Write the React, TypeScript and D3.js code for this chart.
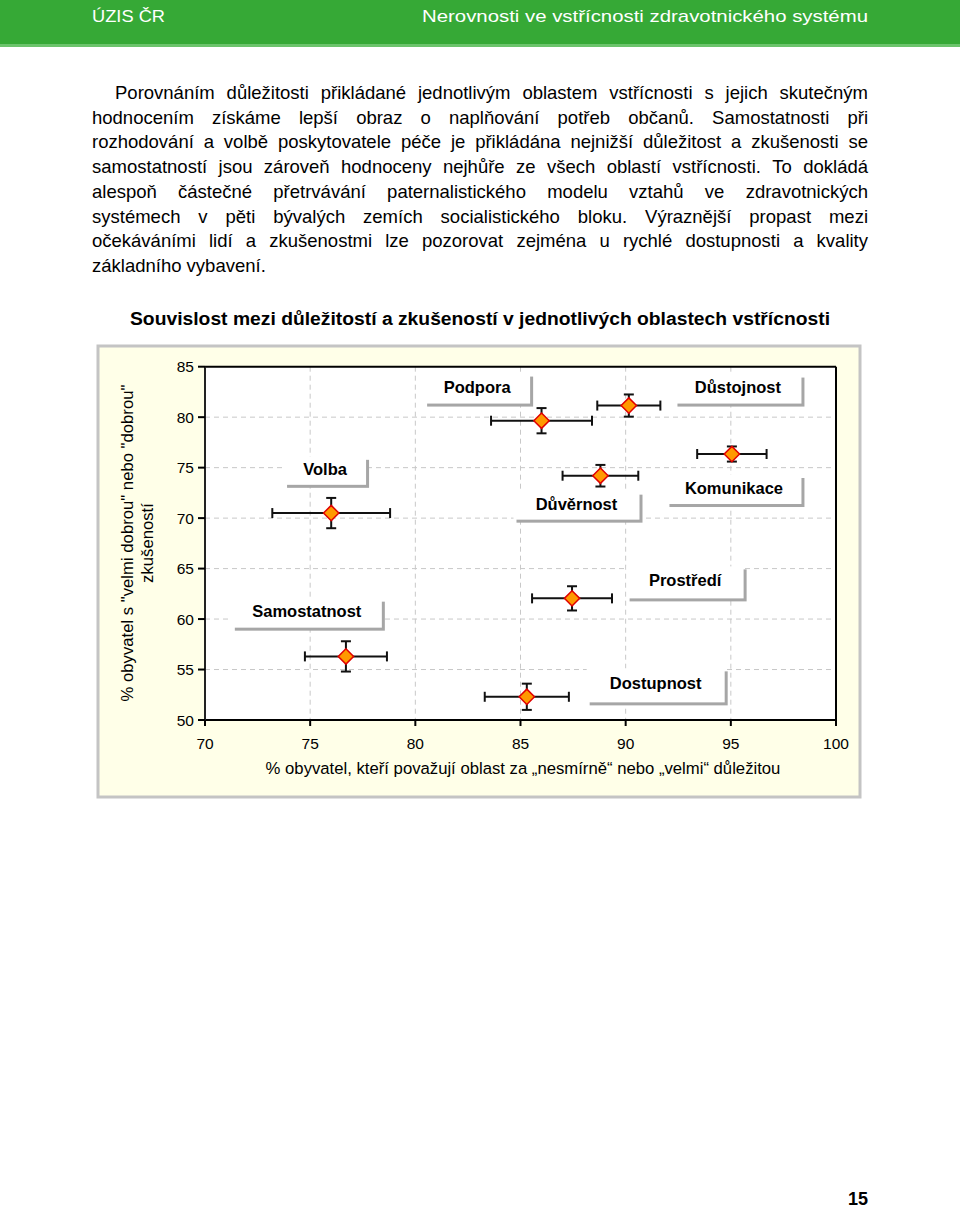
import React from "react";
import * as d3 from "d3";

// ---- data ----
const categories = ["Volba", "Samostatnost", "Podpora", "Důstojnost", "Komunikace", "Důvěrnost", "Prostředí", "Dostupnost"];
const importance = [76.0, 76.7, 86.0, 90.15, 95.05, 88.8, 87.45, 85.3];
const importanceErr = [2.8, 1.95, 2.4, 1.5, 1.65, 1.8, 1.9, 2.0];
const experience = [70.5, 56.3, 79.65, 81.15, 76.35, 74.2, 62.05, 52.3];
const experienceErr = [1.5, 1.5, 1.25, 1.1, 0.75, 1.07, 1.2, 1.3];

const xTicks = [70, 75, 80, 85, 90, 95, 100];
const yTicks = [50, 55, 60, 65, 70, 75, 80, 85];

// label annotation anchors (bottom-right corner of box in data units, box size in px)
const labelAnchorX = [77.8, 78.55, 85.6, 98.5, 98.5, 90.8, 95.75, 94.85];
const labelAnchorY = [73.0, 58.85, 81.05, 81.05, 71.1, 69.55, 61.75, 51.45];
const labelWidth = [82, 150, 106, 127, 135, 126, 117, 138];
const labelHeight = [28, 29, 30, 29, 29, 28, 32, 34];

const paragraph = [
  "Porovnáním důležitosti přikládané jednotlivým oblastem vstřícnosti s jejich skutečným",
  "hodnocením získáme lepší obraz o naplňování potřeb občanů. Samostatnosti při",
  "rozhodování a volbě poskytovatele péče je přikládána nejnižší důležitost a zkušenosti se",
  "samostatností jsou zároveň hodnoceny nejhůře ze všech oblastí vstřícnosti. To dokládá",
  "alespoň částečné přetrvávání paternalistického modelu vztahů ve zdravotnických",
  "systémech v pěti bývalých zemích socialistického bloku. Výraznější propast mezi",
  "očekáváními lidí a zkušenostmi lze pozorovat zejména u rychlé dostupnosti a kvality",
  "základního vybavení.",
];

const W = 960;
const H = 1209;
const FONT = "'Liberation Sans', Arial, sans-serif";

let _ctx: CanvasRenderingContext2D | null = null;
function measure(text: string, size: number, weight = "normal"): number {
  if (!_ctx) {
    const c = document.createElement("canvas");
    _ctx = c.getContext("2d");
  }
  if (!_ctx) return text.length * size * 0.5;
  _ctx.font = `${weight} ${size}px 'Liberation Sans', Arial, sans-serif`;
  return _ctx.measureText(text).width;
}

function JustifiedParagraph() {
  const left = 92;
  const right = 868;
  const indent = 115;
  // font size so that the first line just fills its width
  const base = 17;
  const fs = Math.min(18.5, (base * (right - indent)) / measure(paragraph[0], base));
  const spaceW = measure(" ", fs);
  return (
    <g>
      {paragraph.map((line, i) => {
        const x0 = i === 0 ? indent : left;
        const yy = 99 + i * 24.7;
        const justify = i < paragraph.length - 1;
        if (!justify) {
          return (
            <text key={i} x={x0} y={yy} fontFamily={FONT} fontSize={fs} fill="#000">
              {line}
            </text>
          );
        }
        const words = line.split(" ");
        const widths = words.map((w) => measure(w, fs));
        const total = d3.sum(widths);
        const gap = (right - x0 - total) / (words.length - 1);
        let cx = x0;
        return (
          <g key={i}>
            {words.map((w, j) => {
              const px = cx;
              cx += widths[j] + gap;
              return (
                <text key={j} x={px} y={yy} fontFamily={FONT} fontSize={fs} fill="#000">
                  {w}
                </text>
              );
            })}
          </g>
        );
      })}
    </g>
  );
}

export default function App() {
  const x = d3.scaleLinear().domain([70, 100]).range([205, 836]);
  const y = d3.scaleLinear().domain([50, 85]).range([720, 366.7]);

  const pts = categories.map((c, i) => ({
    name: c,
    x: importance[i],
    y: experience[i],
    ex: importanceErr[i],
    ey: experienceErr[i],
    lx: labelAnchorX[i],
    ly: labelAnchorY[i],
    lw: labelWidth[i],
    lh: labelHeight[i],
  }));

  const diamond = d3.symbol().type(d3.symbolDiamond2).size(150);

  return (
    <svg width={W} height={H} style={{ display: "block", position: "absolute", left: 0, top: 0 }}>
      <rect x={0} y={0} width={W} height={H} fill="#ffffff" />
      {/* header */}
      <rect x={0} y={0} width={W} height={44} fill="#36a936" />
      <rect x={0} y={44} width={W} height={3} fill="#6cc46c" />
      <text x={92} y={22} fill="#ffffff" fontFamily={FONT} fontSize={17} textLength={73} lengthAdjust="spacingAndGlyphs">
        ÚZIS ČR
      </text>
      <text x={422} y={22} fill="#ffffff" fontFamily={FONT} fontSize={17} textLength={446} lengthAdjust="spacingAndGlyphs">
        Nerovnosti ve vstřícnosti zdravotnického systému
      </text>

      {/* paragraph */}
      <JustifiedParagraph />

      {/* chart title */}
      <text x={480} y={325} textAnchor="middle" fontFamily={FONT} fontWeight="bold" fontSize={18} fill="#000" textLength={700} lengthAdjust="spacingAndGlyphs">
        Souvislost mezi důležitostí a zkušeností v jednotlivých oblastech vstřícnosti
      </text>

      {/* chart panel */}
      <rect x={98} y={346} width={762} height={451} fill="#ffffe8" stroke="#c4c4c4" strokeWidth={3} />

      {/* plot area */}
      <rect x={x(70)} y={y(85)} width={x(100) - x(70)} height={y(50) - y(85)} fill="#ffffff" />

      {/* grid */}
      {xTicks.filter((t) => t > 70 && t < 100).map((t) => (
        <line key={"gx" + t} x1={x(t)} x2={x(t)} y1={y(85)} y2={y(50)} stroke="#c8c8c8" strokeDasharray="5,4" />
      ))}
      {yTicks.filter((t) => t > 50 && t < 85).map((t) => (
        <line key={"gy" + t} x1={x(70)} x2={x(100)} y1={y(t)} y2={y(t)} stroke="#c8c8c8" strokeDasharray="5,4" />
      ))}

      {/* labels */}
      {pts.map((p) => {
        const rx = x(p.lx);
        const by = y(p.ly);
        return (
          <g key={"l" + p.name}>
            <rect x={rx - p.lw} y={by - p.lh} width={p.lw} height={p.lh} fill="#a6a6a6" />
            <rect x={rx - p.lw - 3} y={by - p.lh - 3} width={p.lw} height={p.lh} fill="#ffffff" />
            <text
              x={rx - p.lw / 2 - 3}
              y={by - p.lh / 2 + 1}
              textAnchor="middle"
              fontFamily={FONT}
              fontWeight="bold"
              fontSize={16.5}
              fill="#000"
            >
              {p.name}
            </text>
          </g>
        );
      })}

      {/* frame */}
      <line x1={x(70)} x2={x(100)} y1={y(85)} y2={y(85)} stroke="#000" strokeWidth={2} />
      <line x1={x(100)} x2={x(100)} y1={y(85)} y2={y(50)} stroke="#000" strokeWidth={2} />
      <line x1={x(70)} x2={x(100)} y1={y(50)} y2={y(50)} stroke="#000" strokeWidth={2} />
      <line x1={x(70)} x2={x(70)} y1={y(85)} y2={y(50)} stroke="#222" strokeWidth={2} />

      {/* y ticks */}
      {yTicks.map((t) => (
        <g key={"yt" + t}>
          <line x1={x(70) - 7} x2={x(70)} y1={y(t)} y2={y(t)} stroke="#000" strokeWidth={2} />
          <text x={x(70) - 11} y={y(t) + 5.5} textAnchor="end" fontFamily={FONT} fontSize={15.5} fill="#000">
            {t}
          </text>
        </g>
      ))}
      {/* x ticks */}
      {xTicks.map((t) => (
        <g key={"xt" + t}>
          <line x1={x(t)} x2={x(t)} y1={y(50)} y2={y(50) + 6} stroke="#000" strokeWidth={2} />
          <text x={x(t)} y={y(50) + 29} textAnchor="middle" fontFamily={FONT} fontSize={15.5} fill="#000">
            {t}
          </text>
        </g>
      ))}

      {/* axis titles */}
      <text x={523} y={774} textAnchor="middle" fontFamily={FONT} fontSize={16.7} fill="#000">
        % obyvatel, kteří považují oblast za „nesmírně“ nebo „velmi“ důležitou
      </text>
      <g transform="translate(133,543) rotate(-90)">
        <text x={0} y={0} textAnchor="middle" fontFamily={FONT} fontSize={16.7} fill="#000">
          % obyvatel s "velmi dobrou" nebo "dobrou"
        </text>
        <text x={0} y={20} textAnchor="middle" fontFamily={FONT} fontSize={16.7} fill="#000">
          zkušeností
        </text>
      </g>

      {/* error bars and markers */}
      {pts.map((p) => {
        const cx = x(p.x);
        const cy = y(p.y);
        const x1 = x(p.x - p.ex);
        const x2 = x(p.x + p.ex);
        const y1 = y(p.y + p.ey);
        const y2 = y(p.y - p.ey);
        return (
          <g key={"p" + p.name}>
            <line x1={x1} x2={x2} y1={cy} y2={cy} stroke="#111" strokeWidth={2} />
            <line x1={x1} x2={x1} y1={cy - 5} y2={cy + 5} stroke="#111" strokeWidth={2} />
            <line x1={x2} x2={x2} y1={cy - 5} y2={cy + 5} stroke="#111" strokeWidth={2} />
            <line x1={cx} x2={cx} y1={y1} y2={y2} stroke="#111" strokeWidth={2} />
            <line x1={cx - 5} x2={cx + 5} y1={y1} y2={y1} stroke="#111" strokeWidth={2} />
            <line x1={cx - 5} x2={cx + 5} y1={y2} y2={y2} stroke="#111" strokeWidth={2} />
            <path d={diamond() as string} transform={`translate(${cx},${cy})`} fill="#ff9900" stroke="#e00000" strokeWidth={1.5} />
          </g>
        );
      })}

      {/* page number */}
      <text x={868} y={1205} textAnchor="end" fontFamily={FONT} fontWeight="bold" fontSize={18} fill="#000">
        15
      </text>
    </svg>
  );
}
